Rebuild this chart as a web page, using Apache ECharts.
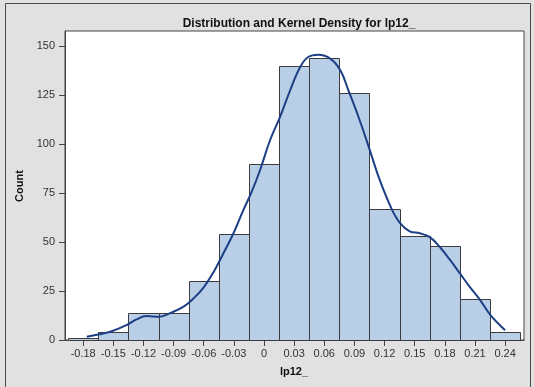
<!DOCTYPE html>
<html>
<head>
<meta charset="utf-8">
<script src="https://cdn.jsdelivr.net/npm/echarts@6/dist/echarts.min.js"></script>
<style>
html,body{margin:0;padding:0;background:#e1e1e1;}
#c{width:534px;height:387px;}
</style>
</head>
<body>
<div id="c"></div>
<script>
// Histogram bins (centers) and counts
const binCenters = [-0.18, -0.15, -0.12, -0.09, -0.06, -0.03, 0, 0.03, 0.06, 0.09, 0.12, 0.15, 0.18, 0.21, 0.24];
const binCounts  = [1, 4, 14, 14, 30, 54, 90, 140, 144, 126, 67, 53, 48, 21, 4];
const binWidth = 0.03;

// Kernel density curve (in count units)
const kdeX = [-0.1765, -0.165, -0.153, -0.137, -0.127, -0.117, -0.104, -0.094, -0.080, -0.070, -0.060, -0.050, -0.0405, -0.0305, -0.0206, -0.012, -0.004, 0.006, 0.016, 0.026, 0.036, 0.044, 0.054, 0.066, 0.076, 0.084, 0.094, 0.104, 0.115, 0.127, 0.135, 0.145, 0.155, 0.165, 0.175, 0.185, 0.195, 0.205, 0.215, 0.225, 0.240];
const kdeY = [1.7, 2.8, 4.2, 7.6, 10.5, 12.2, 11.9, 13.6, 17, 21.3, 26.9, 34.9, 44.2, 54.4, 66.3, 76, 86.7, 102, 114, 127.5, 139.4, 144.5, 145.7, 143.7, 137.7, 127.5, 114, 99, 82, 67, 60, 55.5, 54.5, 52.5, 47.5, 41, 34, 27, 20.5, 13, 5];

// Tick labels
const xTickValues = [-0.18, -0.15, -0.12, -0.09, -0.06, -0.03, 0, 0.03, 0.06, 0.09, 0.12, 0.15, 0.18, 0.21, 0.24];
const xTickLabels = ['-0.18', '-0.15', '-0.12', '-0.09', '-0.06', '-0.03', '0', '0.03', '0.06', '0.09', '0.12', '0.15', '0.18', '0.21', '0.24'];
const yTickValues = [0, 25, 50, 75, 100, 125, 150];
const yTickLabels = ['0', '25', '50', '75', '100', '125', '150'];

const titleText = 'Distribution and Kernel Density for lp12_';
const xName = 'lp12_';
const yName = 'Count';

const chart = echarts.init(document.getElementById('c'), null, {renderer: 'canvas'});

function labelFor(values, labels, v) {
  for (let i = 0; i < values.length; i++) {
    if (Math.abs(values[i] - v) < 1e-9) return labels[i];
  }
  return '';
}

const FONT = 'Liberation Sans, Arial, sans-serif';

chart.setOption({
  backgroundColor: '#e1e1e1',
  animation: false,
  title: {
    text: titleText,
    left: 294, top: 13, textAlign: 'center',
    textStyle: {fontFamily: FONT, fontSize: 12, fontWeight: 'bold', color: '#111'}
  },
  graphic: [
    {type: 'rect', shape: {x: 5.5, y: 3.5, width: 525, height: 400}, style: {fill: 'none', stroke: '#4a4a4a', lineWidth: 1}, z: -10},
    {type: 'text', x: 20, y: 186, rotation: Math.PI / 2,
     style: {text: yName, font: 'bold 11px ' + FONT, fill: '#111', align: 'center', verticalAlign: 'middle'}},
    {type: 'text', x: 294, y: 372,
     style: {text: xName, font: 'bold 11px ' + FONT, fill: '#111', align: 'center', verticalAlign: 'middle'}}
  ],
  grid: {
    left: 65, right: 10, top: 31, bottom: 47,
    show: true, backgroundColor: '#ffffff', borderColor: '#444', borderWidth: 1
  },
  xAxis: {
    type: 'value', min: -0.1981, max: 0.2588,
    axisLine: {show: true, onZero: false, lineStyle: {color: '#444'}},
    axisTick: {show: true, length: 6, customValues: xTickValues, lineStyle: {color: '#444'}},
    axisLabel: {
      customValues: xTickValues, margin: 8,
      fontFamily: FONT, fontSize: 11, color: '#333',
      formatter: v => labelFor(xTickValues, xTickLabels, v)
    },
    splitLine: {show: false}
  },
  yAxis: {
    type: 'value', min: 0, max: 157.8,
    axisLine: {show: true, onZero: false, lineStyle: {color: '#444'}},
    axisTick: {show: true, length: 6, customValues: yTickValues, lineStyle: {color: '#444'}},
    axisLabel: {
      customValues: yTickValues, margin: 10,
      fontFamily: FONT, fontSize: 11, color: '#333',
      formatter: v => labelFor(yTickValues, yTickLabels, v)
    },
    splitLine: {show: false}
  },
  series: [
    {
      type: 'custom',
      data: binCenters.map((c, i) => [c, binCounts[i]]),
      renderItem: function (params, api) {
        const c = api.value(0), n = api.value(1);
        const p0 = api.coord([c - binWidth / 2, n]);
        const p1 = api.coord([c + binWidth / 2, 0]);
        return {
          type: 'rect',
          shape: {x: Math.round(p0[0]) + 0.5, y: Math.round(p0[1]) + 0.5, width: Math.round(p1[0]) - Math.round(p0[0]), height: Math.round(p1[1]) - Math.round(p0[1])},
          style: {fill: '#b9cfe8', stroke: '#3c3c3c', lineWidth: 1}
        };
      },
      z: 2
    },
    {
      type: 'line',
      data: kdeX.map((x, i) => [x, kdeY[i]]),
      smooth: 0.4,
      symbol: 'none',
      lineStyle: {color: '#1d3f86', width: 2},
      z: 3
    }
  ]
});
</script>
</body>
</html>
